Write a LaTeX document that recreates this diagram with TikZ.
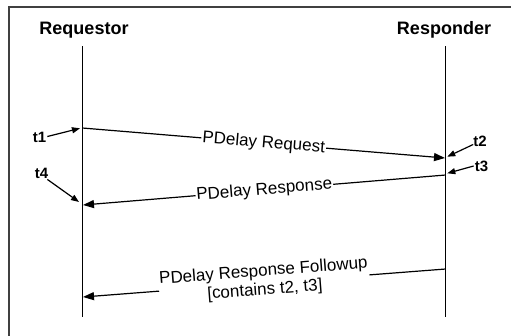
\documentclass[tikz,border=0pt]{standalone}
\usepackage{fontspec}
\setmainfont{Liberation Sans}
\usetikzlibrary{arrows.meta}
\begin{document}
\begin{tikzpicture}[x=1pt,y=-1pt,
  title/.style={font=\fontsize{18}{20}\selectfont\bfseries, inner sep=0pt},
  tlabel/.style={font=\fontsize{15}{17}\selectfont\bfseries, inner sep=1pt},
  msg/.style={line width=1.2pt, -{Triangle[length=11pt,width=8pt]}},
  msglabel/.style={font=\fontsize{17}{19}\selectfont, fill=white, inner sep=1pt, sloped, align=center},
  ptr/.style={line width=1.2pt, -{Triangle[length=8pt,width=6pt]}},
  lifeline/.style={line width=1.4pt}]
\useasboundingbox (0,0) rectangle (511,335);
\draw[line width=1.3pt, black!75] (9,7) rectangle (530,350);
% titles
\node[title] (req) at (84,30) {Requestor};
\node[title] (resp) at (444,30) {Responder};
% lifelines
\coordinate (lt) at (82.3,46);
\coordinate (lb) at (82.3,317);
\coordinate (rt) at (445.7,46);
\coordinate (rb) at (445.7,317);
\draw[lifeline] (lt) -- (lb);
\draw[lifeline] (rt) -- (rb);
% message endpoints
\coordinate (m1s) at (82.3,128);
\coordinate (m1e) at (445,158);
\coordinate (m2s) at (445.7,175);
\coordinate (m2e) at (83,205);
\coordinate (m3s) at (445.7,269);
\coordinate (m3e) at (83,297);
\draw[msg] (m1s) -- node[msglabel] (l1) {PDelay Request} (m1e);
\draw[msg] (m2s) -- node[msglabel] (l2) {PDelay Response} (m2e);
\draw[msg] (m3s) -- node[msglabel, yshift=2pt] (l3) {PDelay Response Followup\\{}[contains t2, t3]} (m3e);
% time labels
\node[tlabel] (t1) at (39.5,137.5) {t1};
\node[tlabel] (t2) at (480,141) {t2};
\node[tlabel] (t3) at (481.5,166) {t3};
\node[tlabel] (t4) at (41.5,173) {t4};
\coordinate (p1) at (80,128.3);
\coordinate (p2) at (447.3,156.7);
\coordinate (p3) at (447.3,173.3);
\coordinate (p4) at (79,202);
\draw[ptr] (t1.east) ++(0,-1) -- (p1);
\draw[ptr] (t2.south west) ++(1,-3) -- (p2);
\draw[ptr] (t3.west) -- (p3);
\draw[ptr] (t4.south east) ++(-2,0) -- (p4);
\end{tikzpicture}
\end{document}
